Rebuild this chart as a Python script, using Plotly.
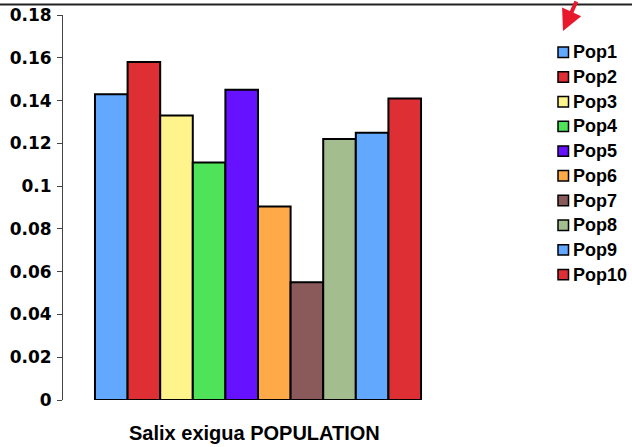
import plotly.graph_objects as go

# Salix exigua: value per population
populations = ["Pop1", "Pop2", "Pop3", "Pop4", "Pop5", "Pop6", "Pop7", "Pop8", "Pop9", "Pop10"]
values = [0.143, 0.158, 0.133, 0.111, 0.145, 0.0905, 0.055, 0.122, 0.125, 0.141]
colors = ["#62a8ff", "#de2f35", "#fff38c", "#4fe35a", "#6611ff",
          "#ffa948", "#8a5a5a", "#a3bd8f", "#62a8ff", "#de2f35"]
y_ticks = [0, 0.02, 0.04, 0.06, 0.08, 0.1, 0.12, 0.14, 0.16, 0.18]

fig = go.Figure()
for name, val, col in zip(populations, values, colors):
    fig.add_trace(go.Bar(
        x=[""], y=[val], name=name,
        marker=dict(color=col, line=dict(color="#000000", width=2)),
    ))

W, H = 632, 447
ml, mr, mt, mb = 63, 179, 15, 47
pw, ph = W - ml - mr, H - mt - mb

def px_x(px):
    return (px - ml) / pw

def px_y(py):
    return (H - mb - py) / ph

fig.update_layout(
    width=W, height=H,
    margin=dict(l=ml, r=mr, t=mt, b=mb, autoexpand=False),
    paper_bgcolor="white", plot_bgcolor="white",
    barmode="group", bargap=0.164, bargroupgap=0,
    font=dict(family="Liberation Sans, Arial", color="#000000"),
    showlegend=False,
    xaxis=dict(showticklabels=False, ticks="", showline=False,
               showgrid=False, zeroline=False),
    yaxis=dict(
        range=[0, 0.18], tickvals=y_ticks, ticktext=[f"{v:g}" for v in y_ticks],
        showgrid=False, zeroline=False,
        showline=True, linecolor="#444444", linewidth=1,
        ticks="outside", ticklen=5, tickcolor="#444444", tickwidth=1,
        ticklabelstandoff=2,
        tickfont=dict(family="DejaVu Sans", size=17, weight="bold", color="#000000"),
    ),
)

# axis caption below the bars
fig.add_annotation(xref="paper", yref="paper", x=px_x(254), y=px_y(433),
                   xanchor="center", yanchor="middle", showarrow=False,
                   text="<b>Salix exigua POPULATION</b>",
                   font=dict(family="Liberation Sans, Arial", size=20, color="#000000"))

# legend: outlined colour key and label for each population
key_x0, key_y0, key_step = 558, 52.3, 24.7
for i, (name, col) in enumerate(zip(populations, colors)):
    cy = key_y0 + key_step * i
    fig.add_shape(type="rect", xref="paper", yref="paper",
                  x0=px_x(key_x0), x1=px_x(key_x0 + 10.5),
                  y0=px_y(cy + 5.2), y1=px_y(cy - 5.2),
                  fillcolor=col, line=dict(color="#000000", width=1.5))
    fig.add_annotation(xref="paper", yref="paper", x=px_x(key_x0 + 12.5), y=px_y(cy),
                       xanchor="left", yanchor="middle", showarrow=False,
                       text=f"<b>{name}</b>",
                       font=dict(family="Liberation Sans, Arial", size=18, color="#000000"))

# frame line across the top
fig.add_shape(type="line", xref="paper", yref="paper",
              x0=px_x(0), x1=px_x(W), y0=px_y(4.5), y1=px_y(4.5),
              line=dict(color="#222222", width=2))

# red pointer arrow toward the legend
fig.add_annotation(xref="paper", yref="paper", x=px_x(563), y=px_y(31),
                   ax=14, ay=-40, text="", showarrow=True,
                   arrowhead=2, arrowsize=1.05, arrowwidth=4, arrowcolor="#e8192c")

fig.write_html("out.html")
